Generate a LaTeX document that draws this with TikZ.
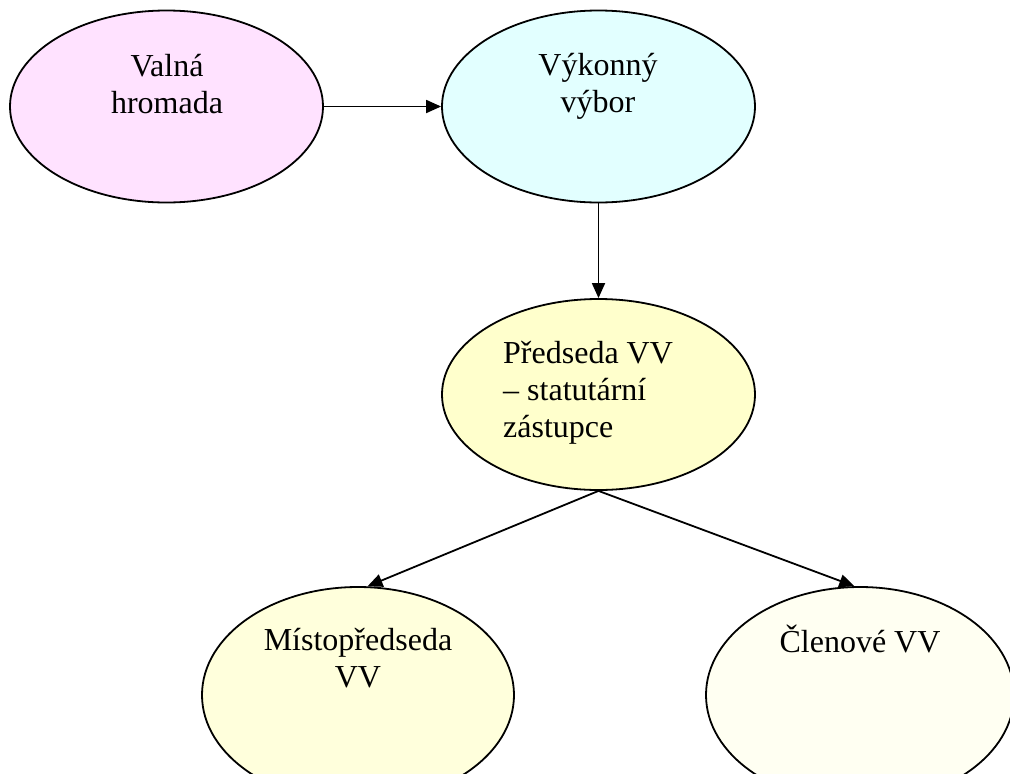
\documentclass[tikz,border=0pt]{standalone}
\usepackage{fontspec}
\setmainfont{Liberation Serif}
\usetikzlibrary{arrows.meta,shapes.geometric}
\definecolor{cpink}{RGB}{255,226,255}
\definecolor{ccyan}{RGB}{226,255,255}
\definecolor{cyel}{RGB}{255,255,204}
\definecolor{cyel2}{RGB}{255,255,220}
\definecolor{cyel3}{RGB}{255,255,242}
\tikzset{
  oval/.style={draw=black, line width=1.8pt, ellipse, inner sep=0pt},
  lbl/.style={inner sep=0pt, font=\fontsize{32}{37}\selectfont},
  conn/.style={draw=black, line width=1.8pt, -{Triangle[length=15pt,width=13pt]}}
}
\begin{document}
\begin{tikzpicture}[x=1pt,y=-1pt]
\useasboundingbox (0,0) rectangle (1010,774);
\node[oval, fill=cpink, minimum width=313pt, minimum height=192pt] (vh) at (166.5,106.5) {};
\node[oval, fill=ccyan, minimum width=313pt, minimum height=192pt] (vv) at (598.5,106.5) {};
\node[oval, fill=cyel, minimum width=313pt, minimum height=191pt] (pr) at (598.5,394.5) {};
\node[oval, fill=cyel2, minimum width=312pt, minimum height=216pt] (mi) at (358,695) {};
\node[oval, fill=cyel3, minimum width=308pt, minimum height=216pt] (cl) at (860,695) {};
\node[lbl, anchor=base, align=center] (vht) at (167,113) {Valná\\hromada};
\node[lbl, anchor=base, align=center] (vvt) at (598,112) {Výkonný\\výbor};
\node[lbl, anchor=base west, align=left] (prt) at (503,437) {Předseda VV\\– statutární\\zástupce};
\node[lbl, anchor=base, align=center] (mit) at (358,687) {Místopředseda\\VV};
\node[lbl, anchor=base, align=center] (clt) at (860,652) {Členové VV};
\draw[conn] (vh.east) -- (vv.west);
\draw[conn] (vv.south) -- (pr.north);
\draw[conn] (pr.south) -- (mi.85);
\draw[conn] (pr.south) -- (cl.93);
\end{tikzpicture}
\end{document}
